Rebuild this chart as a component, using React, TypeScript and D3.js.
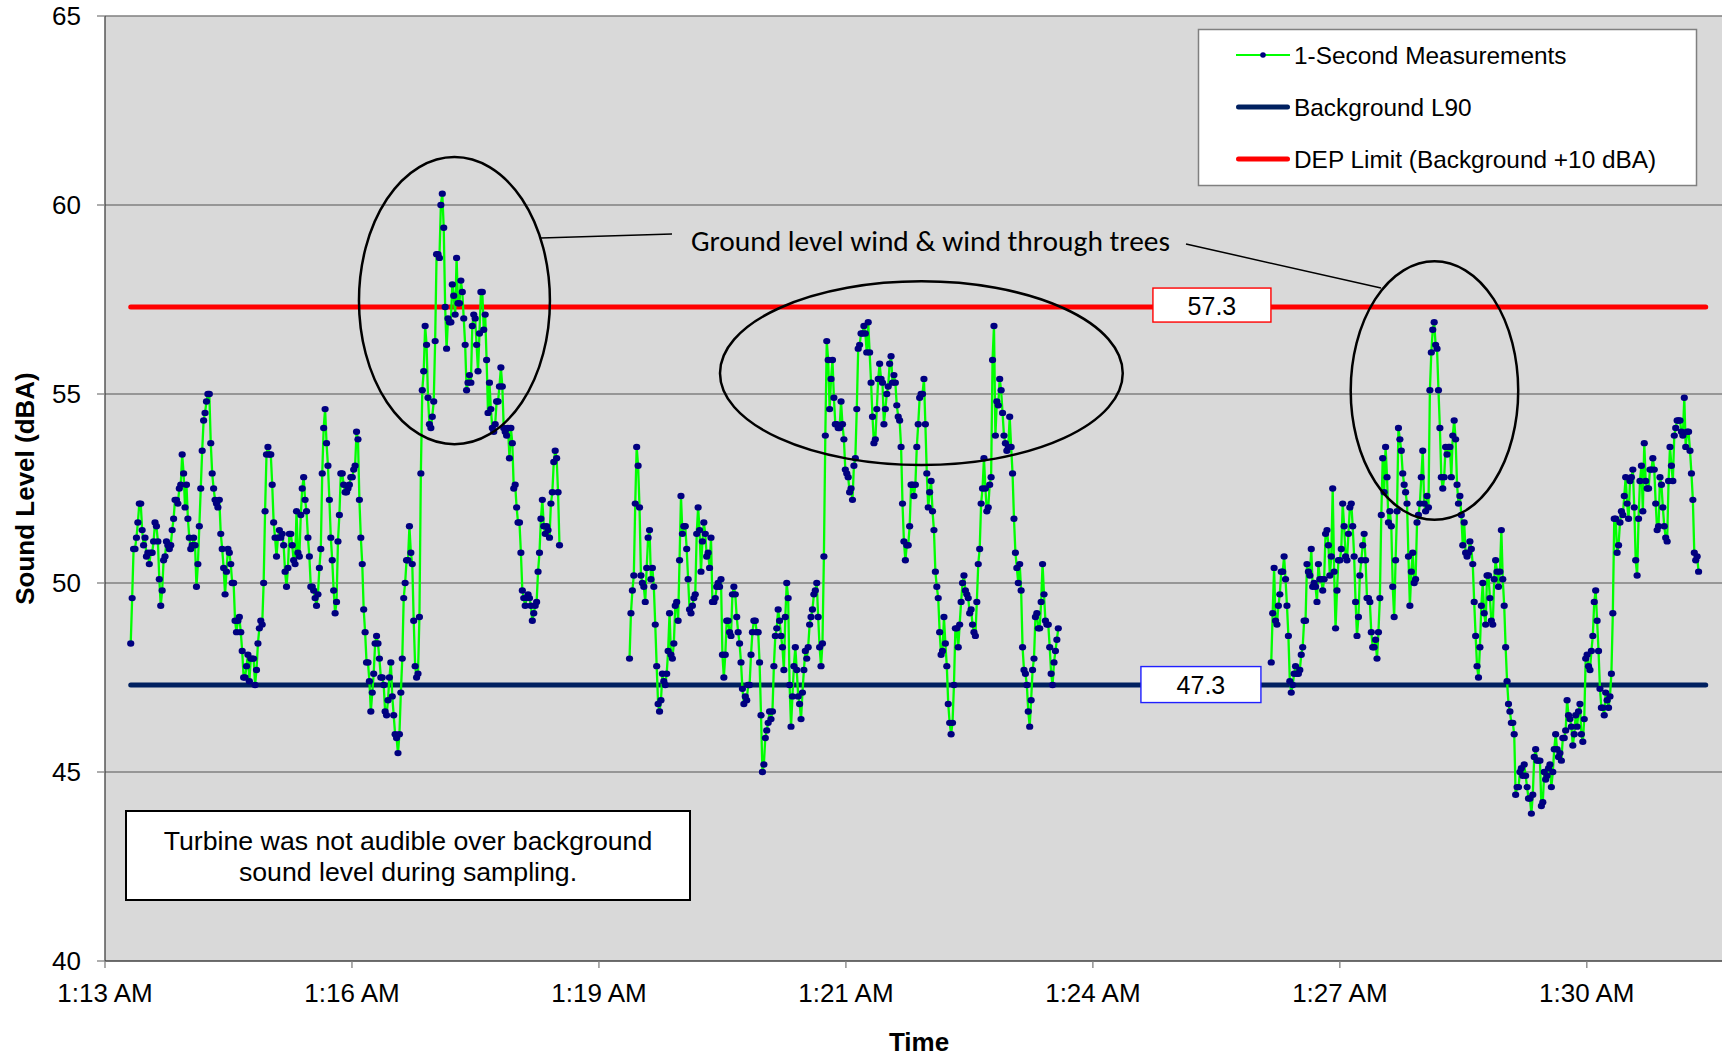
import React from "react";
import * as d3 from "d3";

// ---------- DATA ----------
const SAMPLE_INTERVAL_SEC = 1;

const SEG1_START = "1:13:36";
const SEG1_VALUES = [
  48.4, 49.6, 50.9, 50.9, 51.2, 51.6, 52.1, 52.1, 51.4, 51.0,
  51.2, 50.7, 50.8, 50.5, 50.8, 50.8, 51.1, 51.6, 51.5, 51.1,
  50.1, 49.4, 49.8, 50.6, 50.7, 51.1, 51.0, 50.9, 51.0, 51.4,
  51.7, 52.2, 52.2, 52.1, 52.5, 52.6, 53.4, 52.9, 52.0, 52.6,
  51.7, 51.2, 50.9, 51.0, 51.2, 51.0, 49.9, 50.5, 51.5, 52.5,
  53.5, 54.3, 54.5, 54.8, 55.0, 55.0, 53.7, 52.9, 52.5, 52.2,
  52.1, 52.0, 52.2, 51.3, 50.9, 50.4, 49.7, 50.3, 50.9, 50.8,
  50.5, 50.0, 50.0, 49.0, 48.7, 49.0, 49.1, 48.7, 48.2, 47.5,
  47.5, 47.8, 48.1, 47.4, 48.0, 48.0, 48.0, 47.3, 47.7, 48.4,
  48.8, 49.0, 48.9, 50.0, 51.9, 53.4, 53.6, 53.4, 53.4, 52.6,
  51.6,
  51.2, 50.7, 51.2, 51.4, 51.2, 51.3, 51.0, 50.3, 49.9,
  50.4, 51.3, 51.3, 51.0, 50.6, 50.5, 51.9, 50.8, 50.7, 51.8,
  52.5, 52.8, 52.2, 51.9, 51.2, 50.7, 49.9, 49.9, 49.8, 49.6,
  49.4, 49.7, 50.4, 50.9, 52.9, 54.1, 54.6, 53.7, 53.1, 52.2,
  51.2, 50.6, 49.8, 49.2, 49.5, 51.1, 51.8, 52.9, 52.9, 52.6,
  52.4, 52.4, 52.5, 52.6, 52.8, 52.8, 53.0, 53.1, 54.0, 53.8,
  52.2, 51.2, 50.5, 49.3, 48.7, 47.9, 47.9, 47.4, 46.6, 47.1,
  47.6, 48.4, 48.6, 48.4, 48.0, 47.5, 47.5, 47.3, 46.6, 46.5,
  46.9, 47.5, 47.9, 47.0, 46.5, 46.0, 45.9, 45.5, 46.0, 47.1,
  48.0, 49.6, 50.0, 50.6, 50.6, 51.5, 50.8, 50.5, 49.0, 47.8,
  47.5, 47.6, 49.1, 52.9, 55.1,
  55.6, 56.8, 56.3, 54.9, 54.2, 54.1, 54.4, 54.8, 56.4, 58.7,
  58.7, 58.6, 60.0, 60.3, 59.4, 57.3, 56.2, 57.0, 56.9, 56.9,
  57.9, 57.6, 57.1, 58.6, 57.4, 57.4, 58.0, 57.7, 57.0, 56.3,
  55.1, 55.3, 55.5, 55.3, 56.8, 57.1, 57.0, 56.3, 55.6, 56.6,
  57.7, 57.7, 56.7, 57.1, 55.9, 54.5, 55.3, 54.6, 54.1, 54.0,
  54.2, 54.8, 54.8, 55.2, 55.7, 55.2, 54.1, 54.0, 53.9, 54.1,
  53.3, 54.1, 53.7, 52.5, 52.6, 52.0, 51.6, 51.6, 50.8, 49.8,
  49.6, 49.4, 49.6, 49.7, 49.6, 49.4, 49.0, 49.2, 49.4, 49.5,
  50.3, 50.8, 51.7, 52.2, 51.5, 51.3, 51.5, 51.4, 51.2, 52.1,
  52.4, 53.2, 53.5, 53.3, 52.4, 51.0,
];

const SEG2_START = "1:19:25";
const SEG2_VALUES = [
  48.0, 49.2, 49.8, 50.2, 52.1, 53.6, 53.1, 52.0, 50.2, 50.0,
  49.9, 49.5, 50.4, 51.2, 51.4, 50.1, 50.4, 49.9, 48.9, 47.8,
  46.8, 46.6, 46.9, 47.6, 47.4, 47.3, 47.6, 48.2, 49.2, 48.1,
  48.0, 48.4, 49.4, 49.5, 49.0, 50.6, 52.3, 51.3, 51.5, 51.5,
  50.9, 50.1, 49.3, 49.2, 49.4, 49.6, 49.7, 51.3, 52.0, 51.4,
  50.3, 51.1, 51.6, 51.3, 50.7, 50.8, 50.4, 51.2, 49.5, 49.5,
  49.6, 49.9, 50.0, 49.9, 50.1, 48.1, 47.5, 48.1, 49.0, 49.0,
  48.7, 48.6, 49.7, 49.9, 49.7, 49.1, 48.7, 48.4, 47.9, 47.2,
  46.8, 47.0, 46.9, 47.3, 47.3, 48.1, 48.7, 49.0, 49.0, 48.7,
  48.7, 47.9, 46.5, 45.0, 45.2, 45.9, 46.1, 46.3, 46.6,
  46.4, 46.6, 47.8, 48.6, 48.8, 49.3, 49.0, 48.6, 48.3, 47.7,
  49.1, 50.0, 49.6, 47.3, 46.2, 47.0, 47.8, 48.3, 47.7, 47.0,
  46.8, 46.4, 47.1, 47.7, 48.2, 48.0, 48.3, 48.9, 49.1, 49.3,
  49.7, 49.8, 50.0, 49.1, 48.3, 47.8, 48.4, 50.7, 53.9, 56.4,
  55.9, 54.6, 55.4, 55.9, 54.9, 54.2, 54.2, 54.1, 54.1, 54.8,
  54.2, 53.8, 53.0, 52.9, 52.8, 52.4, 52.5, 52.2, 53.1, 53.3,
  54.6, 56.2, 56.3, 56.6, 56.6, 56.8, 56.6, 56.1, 56.9, 56.1,
  55.3, 54.4, 53.7, 53.8, 54.6, 55.4, 55.8, 55.4, 55.3, 54.2,
  54.6, 55.0, 55.2, 55.8, 56.0, 55.3, 55.5, 55.3, 54.7, 54.4,
  54.3, 53.6, 52.1, 51.1, 50.6, 51.0, 51.0, 51.5, 52.6, 52.6,
  52.3, 52.6, 53.6, 54.2,
  54.9, 55.0, 55.0, 55.4, 54.2, 52.9, 52.0, 52.4, 52.7, 51.9,
  51.4, 50.3, 49.9, 49.6, 48.7, 48.1, 48.2, 49.1, 48.4, 47.8,
  46.8, 46.3, 46.0, 46.3, 47.3, 48.8, 48.8, 48.3, 48.9, 49.5,
  50.0, 50.2, 49.8, 49.7, 49.6, 49.2, 49.3, 48.9, 48.7, 48.6,
  49.5, 50.5, 50.9, 52.1, 52.5, 53.3, 52.5, 51.9, 52.0, 52.6,
  52.8, 55.9, 56.8, 53.9, 54.8, 54.7, 55.4, 55.1, 54.5, 53.9,
  53.7, 53.5, 53.6, 54.4, 53.6, 52.9, 51.7, 50.8, 50.4, 50.0,
  50.5, 49.8, 48.3, 47.7, 47.6, 47.3, 46.6, 46.2, 46.9, 47.7,
  48.0, 49.1, 49.2, 48.8, 48.8, 49.5, 50.5, 49.7, 49.0, 48.9,
  48.9, 48.3, 47.6, 47.3, 47.9, 48.2, 48.5, 48.8,
];

const SEG3_START = "1:26:54";
const SEG3_VALUES = [
  47.9, 49.2, 50.4, 49.0, 48.9, 49.4, 49.7, 50.3, 50.3, 50.7,
  50.1, 49.4, 48.6, 47.4, 47.1, 47.3, 47.6, 47.8, 47.6, 47.6,
  47.7, 48.1, 48.3, 49.0, 49.0, 50.5, 50.3, 50.2, 50.9, 49.9,
  50.0, 49.9, 49.5, 50.5, 50.1, 50.1, 49.8, 50.1, 51.3, 51.4,
  51.0, 50.2, 50.7, 52.5, 50.3, 48.8, 49.8, 50.6, 50.6, 50.9,
  52.1, 51.5, 50.7, 50.6, 51.3, 52.0, 52.1, 51.5, 50.7, 49.5,
  48.6, 49.1, 50.2, 50.6, 51.0, 51.3, 50.6, 49.6, 49.6, 49.5,
  48.7, 48.3, 48.3, 48.5, 48.0, 48.7, 49.6, 51.8, 53.3, 52.4,
  53.6, 52.8, 51.6, 51.9, 51.5, 49.9, 49.1, 50.6, 51.9, 54.1,
  53.8, 53.5, 52.9, 52.6, 52.4, 52.1, 50.7, 49.4,
  50.3, 50.8, 50.0, 50.1, 51.6, 51.8, 52.1, 52.8, 53.5,
  52.1, 51.9, 52.3, 52.0, 55.1, 56.1, 56.7, 56.9, 56.3, 56.2,
  55.1, 54.1, 52.8, 52.5, 52.8, 53.6, 53.4, 53.6, 53.6, 52.8,
  53.9, 54.3, 53.8, 52.6, 52.1, 52.3, 51.8, 51.0, 51.6, 50.8,
  50.7, 50.8, 51.1, 50.9, 50.5, 49.5, 48.6, 47.8, 47.5, 48.3,
  49.4, 50.0, 49.2, 48.9, 50.2, 50.2, 49.6, 49.0, 48.9, 50.1,
  50.6, 50.3, 49.9, 50.3, 51.4, 50.1, 49.4, 48.3, 47.4, 46.8,
  46.6, 46.3, 46.3, 46.0, 44.4, 44.6, 44.6, 45.0, 45.1, 44.9,
  45.2, 44.9, 44.6, 44.3, 44.3, 43.9, 44.4, 45.4, 45.6, 45.3,
  45.3, 45.3, 44.1, 44.2, 45.0, 44.8, 44.9, 45.1, 45.2, 44.6,
  45.0, 45.6, 46.0,
  45.6, 45.4, 45.5, 45.3, 45.9, 45.9, 46.1, 46.9, 46.5,
  46.4, 46.2, 45.7, 46.0, 46.5, 46.2, 46.6, 46.8, 46.0, 45.8,
  46.4, 48.0, 48.1, 47.8, 47.7, 48.2, 48.6, 49.5, 49.8, 49.0,
  48.2, 47.2, 46.7, 46.7, 46.5, 47.1, 46.9, 46.7, 47.0, 47.6,
  49.2, 51.7, 51.7, 50.8, 51.0, 51.6, 51.9, 51.8, 52.3, 52.8,
  52.1, 51.7, 52.7, 52.8, 53.0, 52.0, 50.6, 50.2, 51.7, 52.7,
  53.1, 51.9, 53.7, 52.7, 52.5, 52.5, 53.0, 53.0, 53.3, 53.0,
  52.1, 51.4, 51.5, 52.8, 52.6, 52.0, 51.5, 51.2, 51.1, 52.7,
  53.6, 53.1, 52.7, 53.9, 54.1, 54.3, 54.3, 54.3, 54.0, 53.9,
  54.9, 53.6, 54.0, 54.0, 53.5, 52.9, 52.2, 50.8, 50.6, 50.7,
  50.3,
];

const BACKGROUND_L90 = 47.3;
const DEP_LIMIT = 57.3;
const REF_LINE_START = "1:13:36";
const REF_LINE_END = "1:31:58";

const X_AXIS_MIN = "1:13:18";
const X_MAJOR_UNIT_SEC = 172.8;
const X_AXIS_SPAN_UNITS = 6.6;
const X_TICK_LABELS = ["1:13 AM", "1:16 AM", "1:19 AM", "1:21 AM", "1:24 AM", "1:27 AM", "1:30 AM"];
const Y_MIN = 40;
const Y_MAX = 65;
const Y_TICKS = [40, 45, 50, 55, 60, 65];

const LEGEND_LABELS = ["1-Second Measurements", "Background L90", "DEP Limit (Background +10 dBA)"];
const ANNOTATION_TEXT = "Ground level wind & wind through trees";
const NOTE_LINES = ["Turbine was not audible over background", "sound level during sampling."];

// annotation ellipses in data space: centre time, centre dB, half-width (s), half-height (dB)
const ELLIPSES = [
  { t: "1:17:22.5", v: 57.47, rt: 66.8, rv: 3.8 },
  { t: "1:22:49.2", v: 55.55, rt: 140.9, rv: 2.43 },
  { t: "1:28:48.2", v: 55.09, rt: 58.6, rv: 3.42 },
];
const L90_LABEL_TIME = "1:26:04.8";
const DEP_LABEL_TIME = "1:26:12.5";

// ---------- helpers ----------
const parseT = (s: string) => {
  const [h, m, sec] = s.split(":").map(Number);
  return h * 3600 + m * 60 + sec;
};

const ARIAL = "'Liberation Sans', Arial, Helvetica, sans-serif";
const CALIBRI = "Carlito, Lato, 'Open Sans', sans-serif";

export default function App() {
  const W = 1722;
  const H = 1060;
  const plot = { left: 105, top: 16, right: 1735, bottom: 961 };

  const t0 = parseT(X_AXIS_MIN);
  const x = d3
    .scaleLinear()
    .domain([t0, t0 + X_MAJOR_UNIT_SEC * X_AXIS_SPAN_UNITS])
    .range([plot.left, plot.right]);
  const y = d3.scaleLinear().domain([Y_MIN, Y_MAX]).range([plot.bottom, plot.top]);

  const segments = [
    { start: SEG1_START, values: SEG1_VALUES },
    { start: SEG2_START, values: SEG2_VALUES },
    { start: SEG3_START, values: SEG3_VALUES },
  ].map((s) => {
    const st = parseT(s.start);
    return s.values.map((v, i) => ({ t: st + i * SAMPLE_INTERVAL_SEC, v }));
  });

  const line = d3
    .line<{ t: number; v: number }>()
    .x((d) => x(d.t))
    .y((d) => y(d.v));

  const xTicks = X_TICK_LABELS.map((lab, k) => ({ lab, t: t0 + k * X_MAJOR_UNIT_SEC }));
  const refX1 = x(parseT(REF_LINE_START));
  const refX2 = x(parseT(REF_LINE_END));

  const pxPerSec = x(t0 + 1) - x(t0);
  const pxPerDb = y(Y_MIN) - y(Y_MIN + 1);

  const green = "#00FF00";
  const navy = "#000080";
  const l90Color = "#002060";
  const red = "#FF0000";

  const legend = { x: 1198.5, y: 29.5, w: 498, h: 156 };
  const legRows = [55, 107, 159];

  const depLabelX = x(parseT(DEP_LABEL_TIME));
  const l90LabelX = x(parseT(L90_LABEL_TIME));

  return (
    <svg
      width={W}
      height={H}
      viewBox={`0 0 ${W} ${H}`}
      style={{ position: "absolute", left: 0, top: 0, background: "#fff" }}
    >
      <rect x={0} y={0} width={W} height={H} fill="#ffffff" />
      {/* plot area */}
      <rect
        x={plot.left}
        y={plot.top}
        width={plot.right - plot.left}
        height={plot.bottom - plot.top}
        fill="#D9D9D9"
      />
      {/* gridlines */}
      {Y_TICKS.filter((v) => v > Y_MIN).map((v) => (
        <line
          key={"g" + v}
          x1={plot.left}
          x2={plot.right}
          y1={y(v)}
          y2={y(v)}
          stroke="#7F7F7F"
          strokeWidth={1.6}
        />
      ))}
      {/* axes */}
      <line x1={plot.left} x2={plot.left} y1={plot.top} y2={plot.bottom} stroke="#404040" strokeWidth={1.3} />
      <line x1={plot.left} x2={plot.right} y1={plot.bottom} y2={plot.bottom} stroke="#404040" strokeWidth={1.3} />
      {Y_TICKS.map((v) => (
        <g key={"yt" + v}>
          <line x1={plot.left - 8} x2={plot.left} y1={y(v)} y2={y(v)} stroke="#808080" strokeWidth={1.3} />
          <text
            x={81}
            y={y(v) + 9}
            textAnchor="end"
            fontFamily={ARIAL}
            fontSize={26}
            fill="#000"
          >
            {v}
          </text>
        </g>
      ))}
      {xTicks.map((d) => (
        <g key={"xt" + d.lab}>
          <line x1={x(d.t)} x2={x(d.t)} y1={plot.bottom} y2={plot.bottom + 7} stroke="#808080" strokeWidth={1.3} />
          <text x={x(d.t)} y={1002} textAnchor="middle" fontFamily={ARIAL} fontSize={26} fill="#000">
            {d.lab}
          </text>
        </g>
      ))}
      {/* axis titles */}
      <text
        transform={`translate(34, ${(plot.top + plot.bottom) / 2}) rotate(-90)`}
        textAnchor="middle"
        fontFamily={ARIAL}
        fontSize={26}
        fontWeight="bold"
        fill="#000"
      >
        Sound Level (dBA)
      </text>
      <text x={919} y={1051} textAnchor="middle" fontFamily={ARIAL} fontSize={26} fontWeight="bold" fill="#000">
        Time
      </text>

      {/* reference lines */}
      <line
        x1={refX1}
        x2={refX2}
        y1={y(BACKGROUND_L90)}
        y2={y(BACKGROUND_L90)}
        stroke={l90Color}
        strokeWidth={5}
        strokeLinecap="round"
      />
      <line
        x1={refX1}
        x2={refX2}
        y1={y(DEP_LIMIT)}
        y2={y(DEP_LIMIT)}
        stroke={red}
        strokeWidth={5}
        strokeLinecap="round"
      />

      {/* measurements */}
      {segments.map((seg, i) => (
        <path key={"l" + i} d={line(seg) || ""} fill="none" stroke={green} strokeWidth={2.3} strokeLinejoin="round" />
      ))}
      {segments.map((seg, i) => (
        <g key={"p" + i} fill={navy}>
          {seg.map((d, j) => (
            <ellipse key={j} cx={x(d.t)} cy={y(d.v)} rx={3.6} ry={3.2} />
          ))}
        </g>
      ))}

      {/* value labels */}
      <rect
        x={depLabelX - 59}
        y={y(DEP_LIMIT) - 19}
        width={118}
        height={34}
        fill="#fff"
        stroke={red}
        strokeWidth={1.4}
      />
      <text x={depLabelX} y={y(DEP_LIMIT) + 7.5} textAnchor="middle" fontFamily={ARIAL} fontSize={25} fill="#000">
        {DEP_LIMIT.toFixed(1)}
      </text>
      <rect
        x={l90LabelX - 60}
        y={y(BACKGROUND_L90) - 18.5}
        width={120}
        height={36}
        fill="#fff"
        stroke="#2020FF"
        strokeWidth={1.4}
      />
      <text x={l90LabelX} y={y(BACKGROUND_L90) + 9} textAnchor="middle" fontFamily={ARIAL} fontSize={25} fill="#000">
        {BACKGROUND_L90.toFixed(1)}
      </text>

      {/* annotation ellipses */}
      {ELLIPSES.map((e, i) => (
        <ellipse
          key={"e" + i}
          cx={x(parseT(e.t))}
          cy={y(e.v)}
          rx={e.rt * pxPerSec}
          ry={e.rv * pxPerDb}
          fill="none"
          stroke="#000"
          strokeWidth={2.5}
        />
      ))}
      {/* leader lines */}
      <line x1={541} y1={238} x2={672} y2={234} stroke="#000" strokeWidth={1.5} />
      <line x1={1186} y1={244} x2={1381} y2={288} stroke="#000" strokeWidth={1.5} />
      <text
        x={691}
        y={251}
        fontFamily={CALIBRI}
        fontSize={29}
        fill="#000"
        textLength={479}
        lengthAdjust="spacingAndGlyphs"
      >
        {ANNOTATION_TEXT}
      </text>

      {/* note box */}
      <rect x={126} y={811} width={564} height={89} fill="#fff" stroke="#000" strokeWidth={2} />
      {NOTE_LINES.map((l, i) => (
        <text key={"n" + i} x={408} y={850 + i * 31} textAnchor="middle" fontFamily={ARIAL} fontSize={26.7} fill="#000">
          {l}
        </text>
      ))}

      {/* legend */}
      <rect x={legend.x} y={legend.y} width={legend.w} height={legend.h} fill="#fff" stroke="#808080" strokeWidth={1.5} />
      <line x1={1236} x2={1290} y1={legRows[0]} y2={legRows[0]} stroke={green} strokeWidth={2.2} />
      <circle cx={1263} cy={legRows[0]} r={2.8} fill={navy} />
      <line x1={1238.5} x2={1287.5} y1={legRows[1]} y2={legRows[1]} stroke={l90Color} strokeWidth={5} strokeLinecap="round" />
      <line x1={1238.5} x2={1287.5} y1={legRows[2]} y2={legRows[2]} stroke={red} strokeWidth={5} strokeLinecap="round" />
      {LEGEND_LABELS.map((lab, i) => (
        <text key={"lg" + i} x={1294} y={legRows[i] + 8.7} fontFamily={ARIAL} fontSize={24.4} fill="#000">
          {lab}
        </text>
      ))}
    </svg>
  );
}
